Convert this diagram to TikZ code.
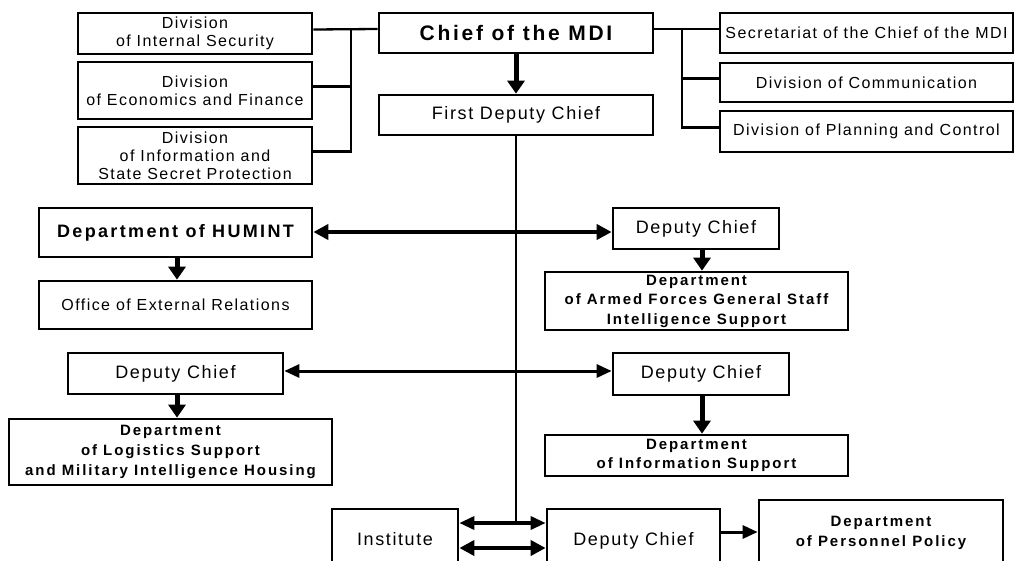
\documentclass[tikz,border=0pt]{standalone}
\usepackage{fontspec}
\setmainfont{Liberation Sans}
\newfontfamily\regsp{Liberation Sans}[LetterSpace=9]
\newfontfamily\boldsp{Liberation Sans}[LetterSpace=13]
\usetikzlibrary{arrows.meta}
\begin{document}
\begin{tikzpicture}[x=1pt,y=-1pt,
  box/.style={draw, line width=2.7pt, inner sep=0pt, align=center,
    font=\regsp\fontsize{16}{18}\selectfont},
  bigtxt/.style={font=\regsp\fontsize{18}{20}\selectfont},
  bbox/.style={box, font=\boldsp\bfseries\fontsize{15}{19.5}\selectfont},
  conn/.style={line width=2.3pt},
  trunk/.style={line width=2.8pt},
  down/.style={line width=5pt, -{Triangle[width=17pt,length=13pt]}},
  dbl/.style={line width=4.3pt, {Triangle[width=15pt,length=15pt]}-{Triangle[width=15pt,length=15pt]}},
  dblthin/.style={line width=3pt, {Triangle[width=13pt,length=15pt]}-{Triangle[width=13pt,length=15pt]}},
  single/.style={line width=3pt, -{Triangle[width=13pt,length=15pt]}}
]
\useasboundingbox (0,0) rectangle (1016,560);
\fill[white] (0,0) rectangle (1016,560);
\clip (0,0) rectangle (1016,560);

% top row
\node[box, minimum width=234pt, minimum height=41pt] (divint) at (195,33.5) {Division\\of Internal Security};
\node[box, minimum width=234pt, minimum height=57pt] (divecon) at (195,90.5) {Division\\of Economics and Finance};
\node[box, minimum width=234pt, minimum height=57pt] (divinfo) at (195,155.5) {Division\\of Information and\\State Secret Protection};
\node[box, minimum width=274pt, minimum height=40pt, font=\boldsp\bfseries\fontsize{21}{24}\selectfont] (chief) at (516,33) {Chief of the MDI};
\node[box, bigtxt, minimum width=274pt, minimum height=40pt] (first) at (516,115) {First Deputy Chief};
\node[box, minimum width=293pt, minimum height=40pt] (secr) at (866.5,33) {Secretariat of the Chief of the MDI};
\node[box, minimum width=293pt, minimum height=39pt] (divcomm) at (866.5,82.5) {Division of Communication};
\node[box, minimum width=293pt, minimum height=41pt] (divplan) at (866.5,131.5) {Division of Planning and Control};

% middle
\node[box, minimum width=273pt, minimum height=49pt, font=\boldsp\bfseries\fontsize{18}{20}\selectfont] (humint) at (175.5,232.5) {Department of HUMINT};
\node[box, minimum width=273pt, minimum height=48pt] (office) at (175.5,305) {Office of External Relations};
\node[box, bigtxt, minimum width=166pt, minimum height=41pt] (dep1) at (696,228.5) {Deputy Chief};
\node[bbox, minimum width=303pt, minimum height=58pt] (armed) at (696.5,301) {Department\\of Armed Forces General Staff\\Intelligence Support};
\node[box, bigtxt, minimum width=215pt, minimum height=41pt] (dep2) at (175.5,373.5) {Deputy Chief};
\node[box, bigtxt, minimum width=176pt, minimum height=42pt] (dep3) at (701,374) {Deputy Chief};
\node[bbox, minimum width=323pt, minimum height=66pt, font=\boldsp\bfseries\fontsize{15}{20}\selectfont] (logist) at (170.5,452) {Department\\of Logistics Support\\and Military Intelligence Housing};
\node[bbox, minimum width=303pt, minimum height=41pt] (infos) at (696.5,455.5) {Department\\of Information Support};

% bottom
\node[box, bigtxt, minimum width=126pt, minimum height=61pt] (inst) at (395,539.5) {Institute};
\node[box, bigtxt, minimum width=173pt, minimum height=63pt] (dep4) at (633.5,540.5) {Deputy Chief};
\node[bbox, minimum width=244pt, minimum height=66pt, font=\boldsp\bfseries\fontsize{15}{20}\selectfont] (pers) at (881,533) {Department\\of Personnel Policy};

% left bracket
\coordinate (bl) at (351,0);
\draw[conn] ([yshift=4pt]chief.west) -- ([yshift=4pt]divint.east);
\draw[conn] ([yshift=4pt]divint.east -| bl) -- ([yshift=4pt]divinfo.east -| bl) -- ([yshift=4pt]divinfo.east);
\draw[conn] ([yshift=4pt]divecon.east -| bl) -- ([yshift=4pt]divecon.east);

% right bracket
\coordinate (br) at (682,0);
\draw[conn] ([yshift=4pt]chief.east) -- ([yshift=4pt]secr.west);
\draw[conn] ([yshift=4pt]secr.west -| br) -- ([yshift=4pt]divplan.west -| br) -- ([yshift=4pt]divplan.west);
\draw[conn] ([yshift=4pt]divcomm.west -| br) -- ([yshift=4pt]divcomm.west);

% chief to first deputy
\draw[down] (chief.south) -- (first.north);

% trunk
\coordinate (t1) at ([yshift=16.5pt]inst.east -| first.south);
\draw[trunk] (first.south) -- (t1);

% horizontal arrows
\draw[dbl] ([yshift=0.5pt]humint.east) -- ([yshift=0.5pt]humint.east -| dep1.west);
\draw[dblthin] ([yshift=2.5pt]dep2.east) -- ([yshift=2.5pt]dep2.east -| dep3.west);
\draw[dblthin, line width=3.3pt] ([yshift=16.5pt]inst.east) -- ([yshift=16.5pt]inst.east -| dep4.west);
\draw[dbl] ([yshift=-8.5pt]inst.east) -- ([yshift=-8.5pt]inst.east -| dep4.west);
\draw[single] ([yshift=8.5pt]dep4.east) -- ([yshift=8.5pt]dep4.east -| pers.west);

% down arrows
\draw[down] ([xshift=1.5pt]humint.south) -- ([xshift=1.5pt]humint.south |- office.north);
\draw[down] ([xshift=6pt]dep1.south) -- ([xshift=6pt]dep1.south |- armed.north);
\draw[down] ([xshift=1pt]dep3.south) -- ([xshift=1pt]dep3.south |- infos.north);
\draw[down] ([xshift=1.5pt]dep2.south) -- ([xshift=1.5pt]dep2.south |- logist.north);
\end{tikzpicture}
\end{document}
